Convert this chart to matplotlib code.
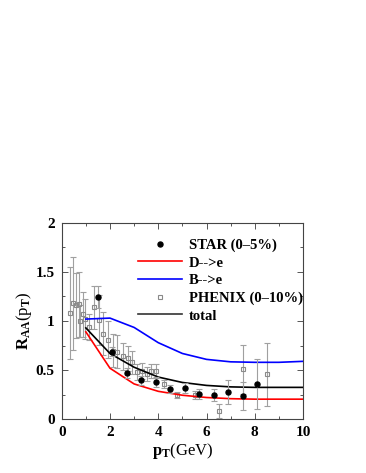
import matplotlib
matplotlib.use("Agg")
import matplotlib.pyplot as plt
from matplotlib.legend_handler import HandlerLine2D
from matplotlib.lines import Line2D
import numpy as np

plt.rcParams['font.family'] = ['Liberation Serif', 'DejaVu Serif']
plt.rcParams['font.weight'] = 'bold'
plt.rcParams['mathtext.fontset'] = 'custom'
plt.rcParams['mathtext.rm'] = 'Liberation Serif:bold'
plt.rcParams['mathtext.bf'] = 'Liberation Serif:bold'
plt.rcParams['mathtext.it'] = 'Liberation Serif:bold'

# STAR (0-5%)
star_x = [1.5, 2.1, 2.7, 3.3, 3.9, 4.5, 5.1, 5.7, 6.3, 6.9, 7.5, 8.1]
star_y = [1.245, 0.69, 0.475, 0.395, 0.38, 0.31, 0.315, 0.26, 0.245, 0.28, 0.237, 0.36]
star_err = [0.11, 0.05, 0.05, 0.05, 0.05, 0.04, 0.05, 0.05, 0.06, 0.12, 0.14, 0.25]

# PHENIX (0-10%)
phx_x = [0.34, 0.46, 0.59, 0.70, 0.76, 0.87, 0.95, 1.12, 1.32, 1.53, 1.72, 1.93, 2.12,
         2.3, 2.52, 2.73, 2.92, 3.12, 3.31, 3.52, 3.72, 3.9, 4.23, 4.76, 5.52, 6.52, 7.52, 8.52]
phx_y = [1.085, 1.18, 1.16, 1.17, 1.0, 1.07, 1.02, 0.94, 1.14, 1.01, 0.87, 0.81, 0.70,
         0.69, 0.64, 0.62, 0.58, 0.48, 0.49, 0.46, 0.49, 0.49, 0.36, 0.25, 0.25, 0.085, 0.51, 0.46]
phx_err = [0.47, 0.47, 0.33, 0.33, 0.16, 0.23, 0.2, 0.13, 0.22, 0.25, 0.22, 0.19, 0.17,
           0.17, 0.14, 0.13, 0.12, 0.08, 0.08, 0.07, 0.07, 0.07, 0.04, 0.03, 0.04, 0.07, 0.25, 0.32]

# model curves
curve_x = [1, 2, 3, 4, 5, 6, 7, 8, 9, 10]
d_e = [0.89, 0.52, 0.36, 0.285, 0.245, 0.222, 0.21, 0.205, 0.205, 0.205]
b_e = [1.02, 1.03, 0.935, 0.78, 0.67, 0.61, 0.585, 0.58, 0.58, 0.59]
total = [0.93, 0.67, 0.53, 0.43, 0.375, 0.345, 0.33, 0.325, 0.325, 0.325]

fig = plt.figure(figsize=(3.66, 4.73), dpi=100)
ax = fig.add_axes([0.1686, 0.1135, 0.6594, 0.4155])

eb_kw = dict(ecolor='#a0a0a0', elinewidth=0.8, capsize=2.5, capthick=0.8)
ax.errorbar(phx_x, phx_y, yerr=phx_err, fmt='s', mfc='none', mec='#8a8a8a',
            ms=3.3, mew=0.8, **eb_kw, zorder=2)
ax.errorbar(star_x, star_y, yerr=star_err, fmt='o', color='black', ms=3.6,
            **eb_kw, zorder=4)
ld, = ax.plot(curve_x, d_e, color='#ff0000', lw=1.2, zorder=3)
lb, = ax.plot(curve_x, b_e, color='#0000ff', lw=1.2, zorder=3)
lt, = ax.plot(curve_x, total, color='black', lw=1.2, zorder=3)

ax.set_xlim(0, 10)
ax.set_ylim(0, 2)
ax.set_xticks([0, 2, 4, 6, 8, 10])
ax.set_xticks([1, 3, 5, 7, 9], minor=True)
ax.set_yticks([0, 0.5, 1, 1.5, 2])
ax.set_yticklabels(['0', '0.5', '1', '1.5', '2'])
ax.set_yticks([0.25, 0.75, 1.25, 1.75], minor=True)
ax.tick_params(which='both', direction='in', top=True, right=True, labelsize=11,
               color='#555555', width=0.7)
ax.tick_params(which='major', length=4, pad=5)
ax.tick_params(which='minor', length=2.5)
for s in ax.spines.values():
    s.set_linewidth(0.8)
    s.set_color('#444444')

ax.set_xlabel(r'$\mathbf{p_T}$(GeV)', fontsize=12, labelpad=1)
ax.set_ylabel(r'$\mathbf{R_{AA}}$(p$_\mathbf{T}$)', fontsize=12, labelpad=1)


class RightMarker(HandlerLine2D):
    def get_xdata(self, legend, xdescent, ydescent, width, height, fontsize):
        xdata = np.array([-xdescent, -xdescent + width])
        return xdata, np.array([-xdescent + 0.92 * width])


h_star = Line2D([], [], ls='none', marker='o', color='black', ms=3.6)
h_phx = Line2D([], [], ls='none', marker='s', mfc='none', mec='#8a8a8a', ms=3.3, mew=0.8)
h_tot = Line2D([], [], color='#333333', lw=1.2)
leg = ax.legend([h_star, ld, lb, h_phx, h_tot],
                ['STAR (0\u20135%)', 'D-->e', 'B-->e', 'PHENIX (0\u201310%)', 'total'],
                loc='upper right', bbox_to_anchor=(1.0, 0.92), frameon=False,
                fontsize=10.5, handlelength=3.0, handletextpad=0.5, labelspacing=0.3,
                borderaxespad=0, borderpad=0,
                handler_map={Line2D: RightMarker(numpoints=1)})

fig.savefig('out.png', dpi=100)
